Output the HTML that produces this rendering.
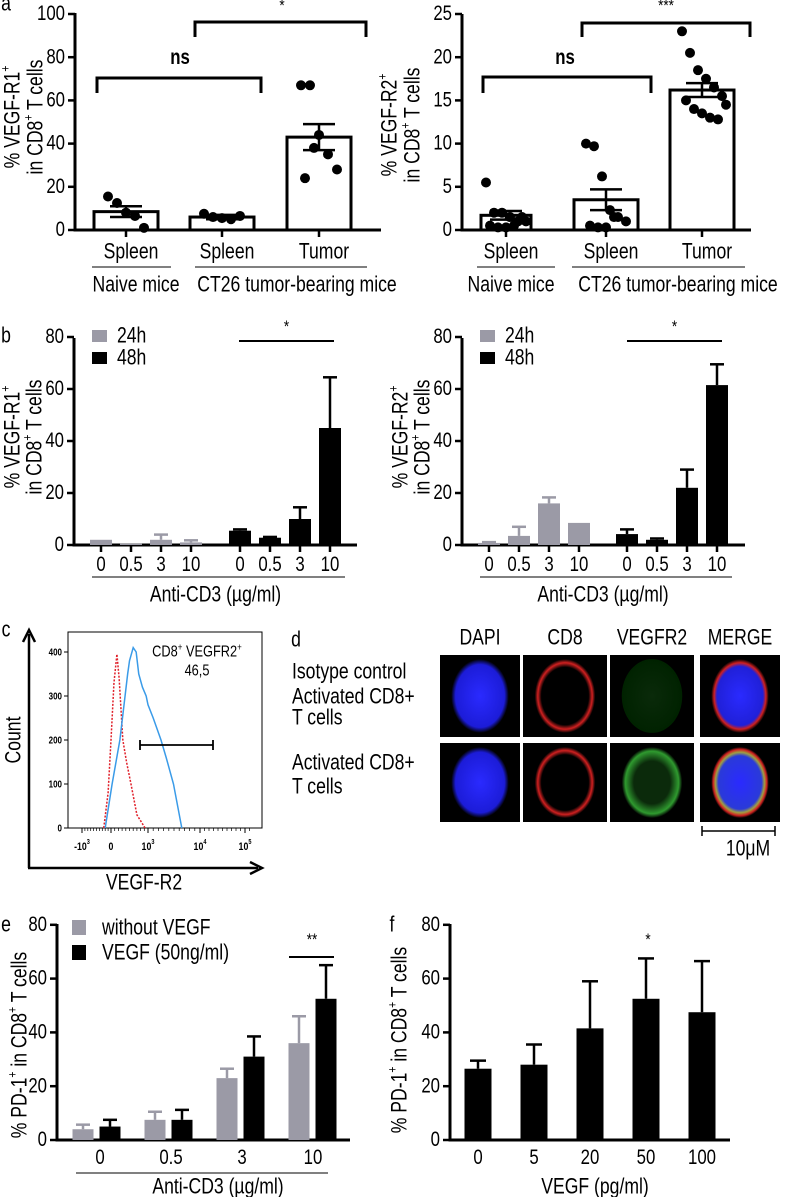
<!DOCTYPE html>
<html><head><meta charset="utf-8">
<style>
html,body{margin:0;padding:0;background:#fff;}
svg{display:block;font-family:"Liberation Sans",Arial,sans-serif;}
</style></head>
<body>
<svg id="fig" width="785" height="1197" viewBox="0 0 785 1197" xmlns="http://www.w3.org/2000/svg">
<defs>
<radialGradient id="gBlue" cx="50%" cy="50%" r="50%"><stop offset="0%" stop-color="#2a2aff"/><stop offset="85%" stop-color="#1c1cd8"/><stop offset="100%" stop-color="#000"/></radialGradient>
<radialGradient id="gRed" cx="50%" cy="50%" r="50%"><stop offset="78%" stop-color="#000"/><stop offset="90%" stop-color="#d02020"/><stop offset="100%" stop-color="#000"/></radialGradient>
<radialGradient id="gGreenFaint" cx="50%" cy="50%" r="50%"><stop offset="0%" stop-color="#0a2a0a"/><stop offset="100%" stop-color="#020"/></radialGradient>
<radialGradient id="gGreen" cx="50%" cy="50%" r="50%"><stop offset="60%" stop-color="#0b2a0b"/><stop offset="88%" stop-color="#2f9a2f"/><stop offset="100%" stop-color="#000"/></radialGradient>
<radialGradient id="gMerge" cx="50%" cy="50%" r="50%"><stop offset="0%" stop-color="#2a2aff"/><stop offset="80%" stop-color="#2020d8"/><stop offset="90%" stop-color="#d02020"/><stop offset="100%" stop-color="#000"/></radialGradient>
<radialGradient id="gMerge2" cx="50%" cy="50%" r="50%"><stop offset="0%" stop-color="#2a2aff"/><stop offset="75%" stop-color="#2a3ad8"/><stop offset="85%" stop-color="#a0a040"/><stop offset="93%" stop-color="#d02020"/><stop offset="100%" stop-color="#000"/></radialGradient>
</defs>
</svg>
<script>
// ---------- DATA ----------
const aCats = ["Spleen","Spleen","Tumor"];
const aR1Means = [8.5, 6, 43];
const aR1Sem = [2.5, 1, 6];
const aR1Pts0 = [15.5, 12.5, 8, 6.5, 1];
const aR1Pts1 = [7.5, 6, 5.5, 5, 6.5];
const aR1Pts2 = [67, 67, 44, 35, 28, 24, 38];
const aR1Ticks = [0, 20, 40, 60, 80, 100];
const aR2Means = [1.7, 3.5, 16.2];
const aR2Sem = [0.5, 1.2, 0.8];
const aR2Pts0 = [5.5, 2, 2, 1.5, 1, 1, 0.5, 0.3, 0.3, 0.5, 1.5];
const aR2Pts1 = [10, 9.7, 6.2, 2.3, 1.5, 1, 0.5, 0.3, 0.3, 1.5];
const aR2Pts2 = [23, 20.5, 18.5, 17.5, 16.5, 15.5, 15, 14, 13.5, 13, 12.8, 14.5];
const aR2Ticks = [0, 5, 10, 15, 20, 25];
const bDoses = ["0","0.5","3","10"];
const bR1_24 = [2, 0.5, 2, 1];
const bR1_24err = [0, 0, 2, 0.8];
const bR1_48 = [5.5, 2.8, 10, 45];
const bR1_48err = [0.5, 0.3, 4.5, 19.5];
const bR2_24 = [0.8, 3.5, 16, 8.5];
const bR2_24err = [0.3, 3.5, 2.3, 0];
const bR2_48 = [4.2, 2, 22, 61.5];
const bR2_48err = [1.8, 0.5, 7, 8];
const bTicks = [0, 20, 40, 60, 80];
const cBlueX = [-0.2, 0.03, 0.24, 0.38, 0.45, 0.5, 0.6, 0.68, 0.75, 0.85, 0.95, 1.0, 1.1, 1.25, 1.35, 1.49, 1.65];
const cBlueY = [0, 100, 200, 300, 350, 380, 410, 400, 350, 320, 300, 280, 250, 200, 160, 100, 0];
const cRedX = [-0.25, -0.1, 0, 0.08, 0.16, 0.22, 0.32, 0.42, 0.54, 0.7, 0.92];
const cRedY = [0, 80, 200, 330, 395, 340, 200, 150, 100, 30, 0];
const cTicks = [0, 100, 200, 300, 400];
const eDoses = ["0","0.5","3","10"];
const eNoVegf = [4, 7.5, 23, 36];
const eNoVegfErr = [1.7, 3, 3.5, 10];
const eVegf = [5, 7.5, 31, 52.5];
const eVegfErr = [2.5, 3.7, 7.5, 12.5];
const eTicks = [0, 20, 40, 60, 80];
const fDoses = ["0","5","20","50","100"];
const fVals = [26.5, 28, 41.5, 52.5, 47.5];
const fErr = [3, 7.5, 17.5, 15, 19];

// ---------- HELPERS ----------
const svg = document.getElementById('fig');
const NS = "http://www.w3.org/2000/svg";
function mk(tag, attrs, name) {
  const e = document.createElementNS(NS, tag);
  for (const k in attrs) e.setAttribute(k, attrs[k]);
  
  
  svg.appendChild(e);
  return e;
}
function line(x1,y1,x2,y2,w,name,col,dash){
  const a = {x1:x1,y1:y1,x2:x2,y2:y2,stroke:col||"#000","stroke-width":w};
  if (dash) a["stroke-dasharray"] = dash;
  return mk('line', a, name);
}
function txt(x,y,s,size,anchor,name,rot,bold){
  let tr = 'translate('+x+','+y+')';
  if (rot) tr += ' rotate('+rot+')';
  tr += ' scale(0.8,1)';
  const e = mk('text', {transform:tr,'font-size':size,'text-anchor':anchor||'middle','dominant-baseline':'central',fill:'#000','font-weight':bold?'bold':'normal'}, name);
  e.innerHTML = s;
  return e;
}
const SUP = s => '<tspan font-size="13" dy="-8">'+s+'</tspan><tspan dy="8">';
function yAxis(x, yTop, yBot, ticks, scale, name, fs) {
  line(x, yTop-1, x, yBot+1.5, 3, name+'-line');
  ticks.forEach(v => {
    const y = scale(v);
    line(x-7, y, x, y, 2.5, name+'-tick');
    txt(x-10, y, String(v), fs||21, 'end', name+'-tick-label');
  });
}
function errBar(cx, yv, ye, cap, name, col, w) {
  line(cx, yv, cx, ye, w||2.5, name, col);
  line(cx-cap, ye, cx+cap, ye, w||2.5, name+'-cap', col);
}

// ---------- PANEL A ----------
txt(6, 4, 'a', 22, 'middle', 'panel-a-label');
{
  const y = v => 230 - v*2.16;
  yAxis(75, 14, 230, aR1Ticks, y, 'a1-y-axis');
  line(74, 230, 381, 230, 3, 'a1-x-axis');
  txt(13, 117, '% VEGF-R1'+SUP('+')+'</tspan>', 22, 'middle', 'a1-y-axis-title', -90);
  txt(36, 117, 'in CD8'+SUP('+')+' T cells</tspan>', 22, 'middle', 'a1-y-axis-title-2', -90);
  const centers = [126, 222, 319];
  const pts = [aR1Pts0, aR1Pts1, aR1Pts2];
  aR1Means.forEach((m,i)=>{
    const cx = centers[i];
    mk('rect',{x:cx-32,y:y(m),width:64,height:230-y(m),fill:'#fff',stroke:'#000','stroke-width':3},'a1-bar-'+i);
    line(cx, 230, cx, 237, 2.5, 'a1-x-tick');
    txt(cx+5, 252, aCats[i], 22, 'middle', 'a1-category-label');
  });
  pts.forEach((arr,i)=>arr.forEach((v,j)=>{
    const off = ((j%5)-2)*9 + (j>=5?4:0);
    mk('circle',{cx:centers[i]+off,cy:y(v),r:5,fill:'#000'},'a1-point');
  }));
  aR1Means.forEach((m,i)=>{
    const cx = centers[i];
    line(cx, y(m-aR1Sem[i]), cx, y(m+aR1Sem[i]), 2.5, 'a1-error');
    line(cx-16, y(m+aR1Sem[i]), cx+16, y(m+aR1Sem[i]), 2.5, 'a1-error-cap');
    line(cx-16, y(m-aR1Sem[i]), cx+16, y(m-aR1Sem[i]), 2.5, 'a1-error-cap');
  });
  mk('polyline',{points:'97,93 97,78 261,78 261,93',fill:'none',stroke:'#000','stroke-width':3},'a1-ns-bracket');
  txt(180, 58, 'ns', 21, 'middle', 'a1-ns-label', 0, true);
  mk('polyline',{points:'195,37 195,22 366,22 366,37',fill:'none',stroke:'#000','stroke-width':3},'a1-sig-bracket');
  txt(282, 6, '*', 17, 'middle', 'a1-sig-label');
  line(92, 267, 171, 267, 1, 'a1-group-line-naive');
  line(195, 267, 367, 267, 1, 'a1-group-line-ct26');
  txt(136, 285, 'Naive mice', 22, 'middle', 'a1-group-naive');
  txt(297, 285, 'CT26 tumor-bearing mice', 22, 'middle', 'a1-group-ct26');
}
{
  const y = v => 230 - v*8.64;
  yAxis(462, 15, 230, aR2Ticks, y, 'a2-y-axis');
  line(461, 230, 751, 230, 3, 'a2-x-axis');
  txt(390, 125, '% VEGF-R2'+SUP('+')+'</tspan>', 22, 'middle', 'a2-y-axis-title', -90);
  txt(413, 125, 'in CD8'+SUP('+')+' T cells</tspan>', 22, 'middle', 'a2-y-axis-title-2', -90);
  const centers = [506, 606, 702];
  const pts = [aR2Pts0, aR2Pts1, aR2Pts2];
  aR2Means.forEach((m,i)=>{
    const cx = centers[i];
    const w = i===0 ? 50 : 64;
    mk('rect',{x:cx-w/2,y:y(m),width:w,height:230-y(m),fill:'#fff',stroke:'#000','stroke-width':3},'a2-bar-'+i);
    line(cx, 230, cx, 237, 2.5, 'a2-x-tick');
    txt(cx+5, 252, aCats[i], 22, 'middle', 'a2-category-label');
  });
  pts.forEach((arr,i)=>arr.forEach((v,j)=>{
    const off = ((j%6)-2.5)*8 + (j>=6?4:0);
    mk('circle',{cx:centers[i]+off,cy:y(v),r:5,fill:'#000'},'a2-point');
  }));
  aR2Means.forEach((m,i)=>{
    const cx = centers[i];
    line(cx, y(m-aR2Sem[i]), cx, y(m+aR2Sem[i]), 2.5, 'a2-error');
    line(cx-16, y(m+aR2Sem[i]), cx+16, y(m+aR2Sem[i]), 2.5, 'a2-error-cap');
    line(cx-16, y(m-aR2Sem[i]), cx+16, y(m-aR2Sem[i]), 2.5, 'a2-error-cap');
  });
  mk('polyline',{points:'483,93 483,77 651,77 651,93',fill:'none',stroke:'#000','stroke-width':3},'a2-ns-bracket');
  txt(565, 58, 'ns', 21, 'middle', 'a2-ns-label', 0, true);
  mk('polyline',{points:'582,37 582,23 750,23 750,37',fill:'none',stroke:'#000','stroke-width':3},'a2-sig-bracket');
  txt(666, 6, '***', 17, 'middle', 'a2-sig-label');
  line(477, 267, 555, 267, 1, 'a2-group-line-naive');
  line(572, 267, 745, 267, 1, 'a2-group-line-ct26');
  txt(511, 285, 'Naive mice', 22, 'middle', 'a2-group-naive');
  txt(678, 285, 'CT26 tumor-bearing mice', 22, 'middle', 'a2-group-ct26');
}

// ---------- PANEL B ----------
txt(6, 336, 'b', 22, 'middle', 'panel-b-label');
function panelB(ax, g0, off, d24, e24, d48, e48, pre, title, sigX1, sigX2) {
  const y = v => 545 - v*2.6;
  yAxis(ax, 339, 545, bTicks, y, pre+'-y-axis');
  line(ax-1, 545, ax+283, 545, 3, pre+'-x-axis');
  txt(ax-61, 437, title, 22, 'middle', pre+'-y-axis-title', -90);
  txt(ax-39, 437, 'in CD8'+SUP('+')+' T cells</tspan>', 22, 'middle', pre+'-y-axis-title-2', -90);
  const bw = 22;
  [[d24,e24,'#9b9aa6',0],[d48,e48,'#000',1]].forEach(([d,e,col,s])=>{
    d.forEach((v,i)=>{
      const cx = g0 + i*30 + s*off;
      if (e[i]>0) errBar(cx, y(v), y(v+e[i]), 7, pre+'-error', col, 2.5);
      mk('rect',{x:cx-bw/2,y:y(v),width:bw,height:545-y(v),fill:col},pre+(s?'-bar-48h':'-bar-24h'));
      line(cx, 545, cx, 552, 2.5, pre+'-x-tick');
      txt(cx, 565, bDoses[i], 21, 'middle', pre+'-x-tick-label');
    });
  });
  line(g0-9, 577, g0+off+3*30+15, 577, 1, pre+'-group-line');
  txt((g0+g0+off+90)/2, 595, 'Anti-CD3 (µg/ml)', 22, 'middle', pre+'-x-axis-title');
  mk('rect',{x:ax+18,y:330,width:15,height:12,fill:'#9b9aa6'},pre+'-legend-swatch-24h');
  txt(ax+43, 336, '24h', 22, 'start', pre+'-legend-24h');
  mk('rect',{x:ax+18,y:352,width:15,height:12,fill:'#000'},pre+'-legend-swatch-48h');
  txt(ax+43, 358, '48h', 22, 'start', pre+'-legend-48h');
  line(sigX1, 341, sigX2, 341, 2, pre+'-sig-line');
  txt((sigX1+sigX2)/2, 327, '*', 17, 'middle', pre+'-sig-label');
}
panelB(74, 101, 139, bR1_24, bR1_24err, bR1_48, bR1_48err, 'b1', '% VEGF-R1'+SUP('+')+'</tspan>', 239, 334);
panelB(462, 489, 138, bR2_24, bR2_24err, bR2_48, bR2_48err, 'b2', '% VEGF-R2'+SUP('+')+'</tspan>', 627, 722);

// ---------- PANEL C ----------
txt(6, 630, 'c', 22, 'middle', 'panel-c-label');
{
  const y = c => 828 - c*0.44;
  const xd = d => d < 0 ? 111 + d*29 : (d < 1 ? 111 + d*37 : (d < 2 ? 148 + (d-1)*52 : 200 + (d-2)*45));
  mk('rect',{x:68,y:632,width:194,height:196,fill:'none',stroke:'#000','stroke-width':1},'c-plot-frame');
  cTicks.forEach(v=>{
    line(64, y(v), 68, y(v), 1, 'c-y-tick');
    txt(62, y(v), String(v), 10, 'end', 'c-y-tick-label', 0, true);
  });
  [[-1,'-10<tspan font-size="7" dy="-5">3</tspan>'],[0,'0'],[1,'10<tspan font-size="7" dy="-5">3</tspan>'],[2,'10<tspan font-size="7" dy="-5">4</tspan>'],[3,'10<tspan font-size="7" dy="-5">5</tspan>']].forEach(([d,s])=>{
    line(xd(d), 828, xd(d), 833, 1, 'c-x-tick');
    txt(xd(d), 847, s, 11, 'middle', 'c-x-tick-label', 0, true);
  });
  for (let d=-1; d<3.2; d+=0.1) line(xd(d), 828, xd(d), 831, 0.7, 'c-x-minor-tick');
  mk('polyline',{points:cRedX.map((v,i)=>xd(v)+','+y(cRedY[i])).join(' '),fill:'none',stroke:'#e0202a','stroke-width':1.5,'stroke-dasharray':'2,1.5'},'c-isotype-curve');
  mk('polyline',{points:cBlueX.map((v,i)=>xd(v)+','+y(cBlueY[i])).join(' '),fill:'none',stroke:'#3a9be8','stroke-width':1.5},'c-vegfr2-curve');
  line(140, 745, 213, 745, 1.8, 'c-gate-line');
  line(140, 740, 140, 750, 1.8, 'c-gate-left');
  line(213, 740, 213, 750, 1.8, 'c-gate-right');
  txt(197, 652, 'CD8<tspan font-size="10" dy="-5">+</tspan><tspan dy="5"> VEGFR2</tspan><tspan font-size="10" dy="-5">+</tspan>', 16, 'middle', 'c-gate-title');
  txt(197, 671, '46,5', 16, 'middle', 'c-gate-value');
  line(29, 868, 29, 634, 2.5, 'c-y-arrow');
  mk('polyline',{points:'23,642 29,630 35,642',fill:'none',stroke:'#000','stroke-width':2.5},'c-y-arrowhead');
  line(28, 868, 258, 868, 2.5, 'c-x-arrow');
  mk('polyline',{points:'250,862 262,868 250,874',fill:'none',stroke:'#000','stroke-width':2.5},'c-x-arrowhead');
  txt(14, 740, 'Count', 22, 'middle', 'c-y-axis-title', -90);
  txt(144, 883, 'VEGF-R2', 22, 'middle', 'c-x-axis-title');
}

// ---------- PANEL D ----------
txt(296, 640, 'd', 22, 'middle', 'panel-d-label');
{
  const cols = [[440,80,'DAPI'],[523,84,'CD8'],[610,84,'VEGFR2'],[700,80,'MERGE']];
  const rows = [[655,82],[743,79]];
  cols.forEach(([x,w,lab])=>txt(x+w/2, 638, lab, 22, 'middle', 'd-column-header'));
  const fills = [['url(#gBlue)','url(#gRed)','url(#gGreenFaint)','url(#gMerge)'],['url(#gBlue)','url(#gRed)','url(#gGreen)','url(#gMerge2)']];
  rows.forEach(([ry,rh],r)=>cols.forEach(([x,w],c)=>{
    mk('rect',{x:x,y:ry,width:w,height:rh,fill:'#000'},'d-image-bg');
    mk('ellipse',{cx:x+w/2,cy:ry+rh/2,rx:w*0.36,ry:rh*0.45,fill:fills[r][c]},'d-cell');
  }));
  txt(292, 672, 'Isotype control', 22, 'start', 'd-row1-label-1');
  txt(292, 697, 'Activated CD8+', 22, 'start', 'd-row1-label-2');
  txt(292, 718, 'T cells', 22, 'start', 'd-row1-label-3');
  txt(292, 763, 'Activated CD8+', 22, 'start', 'd-row2-label-1');
  txt(292, 787, 'T cells', 22, 'start', 'd-row2-label-2');
  line(702, 831, 775, 831, 1.5, 'd-scale-bar');
  line(702, 826, 702, 836, 1.5, 'd-scale-bar-end');
  line(775, 826, 775, 836, 1.5, 'd-scale-bar-end');
  txt(748, 849, '10μM', 22, 'middle', 'd-scale-label');
}

// ---------- PANEL E ----------
txt(6, 925, 'e', 22, 'middle', 'panel-e-label');
{
  const y = v => 1140 - v*2.69;
  yAxis(57, 925, 1140, eTicks, y, 'e-y-axis');
  line(56, 1140, 350, 1140, 3, 'e-x-axis');
  txt(20, 1045, '% PD-1'+SUP('+')+' in CD8</tspan>'+SUP('+')+' T cells</tspan>', 22, 'middle', 'e-y-axis-title', -90);
  const bw = 21;
  eNoVegf.forEach((v,i)=>{
    const cx = 83 + i*72;
    errBar(cx, y(v), y(v+eNoVegfErr[i]), 7, 'e-error-novegf', '#9b9aa6', 2.5);
    mk('rect',{x:cx-bw/2,y:y(v),width:bw,height:1140-y(v),fill:'#9b9aa6'},'e-bar-without-vegf');
  });
  eVegf.forEach((v,i)=>{
    const cx = 110 + i*72;
    errBar(cx, y(v), y(v+eVegfErr[i]), 7, 'e-error-vegf', '#000', 2.5);
    mk('rect',{x:cx-bw/2,y:y(v),width:bw,height:1140-y(v),fill:'#000'},'e-bar-vegf');
  });
  eDoses.forEach((d,i)=>txt(100 + i*71, 1158, d, 21, 'middle', 'e-x-tick-label'));
  line(76, 1173, 328, 1173, 1, 'e-group-line');
  txt(218, 1187, 'Anti-CD3 (µg/ml)', 22, 'middle', 'e-x-axis-title');
  mk('rect',{x:72,y:920,width:14,height:15,fill:'#9b9aa6'},'e-legend-swatch-without');
  txt(102, 928, 'without VEGF', 22, 'start', 'e-legend-without');
  mk('rect',{x:72,y:945,width:14,height:15,fill:'#000'},'e-legend-swatch-vegf');
  txt(102, 953, 'VEGF (50ng/ml)', 22, 'start', 'e-legend-vegf');
  line(289, 957, 334, 957, 2, 'e-sig-line');
  txt(312, 940, '**', 17, 'middle', 'e-sig-label');
}

// ---------- PANEL F ----------
txt(392, 925, 'f', 22, 'middle', 'panel-f-label');
{
  const y = v => 1140 - v*2.69;
  yAxis(450, 925, 1140, eTicks, y, 'f-y-axis');
  line(449, 1140, 730, 1140, 3, 'f-x-axis');
  txt(400, 1040, '% PD-1'+SUP('+')+' in CD8</tspan>'+SUP('+')+' T cells</tspan>', 22, 'middle', 'f-y-axis-title', -90);
  fVals.forEach((v,i)=>{
    const cx = 478 + i*56;
    errBar(cx, y(v), y(v+fErr[i]), 8, 'f-error', '#000', 2.5);
    mk('rect',{x:cx-13.5,y:y(v),width:27,height:1140-y(v),fill:'#000'},'f-bar');
    txt(cx, 1158, fDoses[i], 21, 'middle', 'f-x-tick-label');
  });
  txt(648, 940, '*', 17, 'middle', 'f-sig-label');
  txt(595, 1187, 'VEGF (pg/ml)', 22, 'middle', 'f-x-axis-title');
}
</script>
</body></html>
